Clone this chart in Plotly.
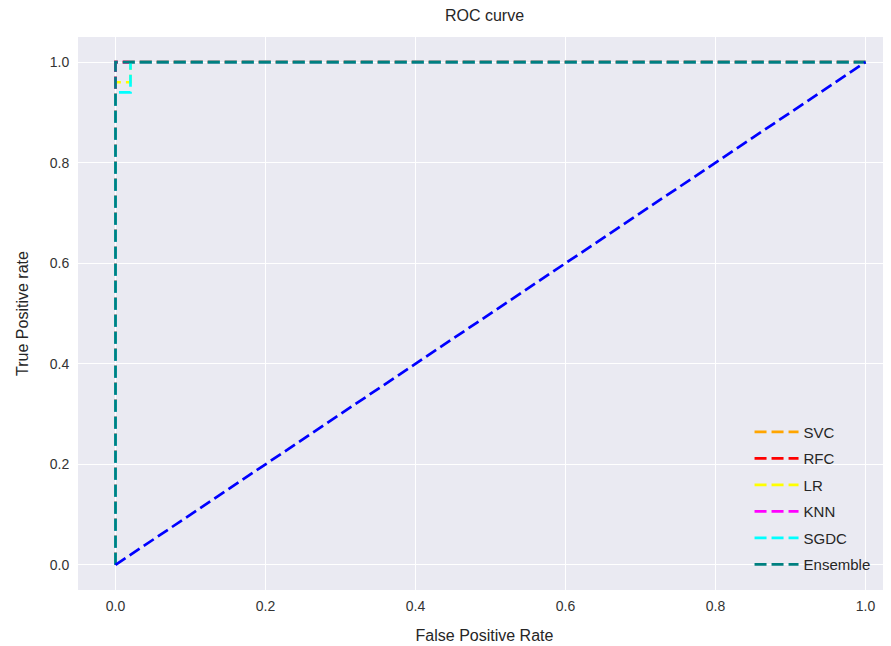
import plotly.graph_objects as go

# ROC curves (FPR, TPR)
svc_fpr = [0.0, 0.0, 1.0]
svc_tpr = [0.0, 1.0, 1.0]
rfc_fpr = [0.0, 0.0, 1.0]
rfc_tpr = [0.0, 1.0, 1.0]
lr_fpr = [0.0, 0.0, 0.02, 0.02, 1.0]
lr_tpr = [0.0, 0.96, 0.96, 1.0, 1.0]
knn_fpr = [0.0, 0.0, 1.0]
knn_tpr = [0.0, 1.0, 1.0]
sgdc_fpr = [0.0, 0.0, 0.02, 0.02, 1.0]
sgdc_tpr = [0.0, 0.94, 0.94, 1.0, 1.0]
ens_fpr = [0.0, 0.0, 1.0]
ens_tpr = [0.0, 1.0, 1.0]
diag = [0.0, 1.0]

series = [
    ("SVC", svc_fpr, svc_tpr, "#FFA500"),
    ("RFC", rfc_fpr, rfc_tpr, "#FF0000"),
    ("LR", lr_fpr, lr_tpr, "#FFFF00"),
    ("KNN", knn_fpr, knn_tpr, "#FF00FF"),
    ("SGDC", sgdc_fpr, sgdc_tpr, "#00FFFF"),
    ("Ensemble", ens_fpr, ens_tpr, "#008080"),
]

fig = go.Figure()
for name, x, y, c in series:
    fig.add_trace(go.Scatter(x=x, y=y, mode="lines", name=name, legendgroup=name,
                             line=dict(color=c, width=2.7, dash="12px,5px")))
fig.add_trace(go.Scatter(x=diag, y=diag, mode="lines", showlegend=False,
                         line=dict(color="#0000FF", width=2.7, dash="12px,5px")))

font = "Liberation Sans, Arial, sans-serif"
axis = dict(showgrid=True, gridcolor="white", gridwidth=1.3, zeroline=False,
            showline=False, ticks="outside", tickcolor="rgba(0,0,0,0)",
            tickformat=".1f", dtick=0.2, tick0=0, automargin=False,
            tickfont=dict(size=14, color="#333333", family=font))
fig.update_layout(
    width=883, height=638,
    paper_bgcolor="white", plot_bgcolor="#EAEAF2",
    margin=dict(l=70, r=0, t=29, b=56),
    title=dict(text="ROC curve", x=0.5, xanchor="center", xref="paper",
               y=1, yref="container", yanchor="top", pad=dict(t=2),
               font=dict(size=16, color="#262626", family=font)),
    xaxis=dict(axis, range=[-0.05, 1.034], ticklen=3,
               title=dict(text="False Positive Rate", font=dict(size=16, color="#262626", family=font), standoff=17)),
    yaxis=dict(axis, range=[-0.05, 1.05], ticklen=5,
               title=dict(text="True Positive rate", font=dict(size=16, color="#262626", family=font), standoff=17)),
    legend=dict(x=0.826, y=0.017, xanchor="left", yanchor="bottom", bgcolor="rgba(0,0,0,0)",
                font=dict(size=15, color="#262626", family=font), itemwidth=44,
                tracegroupgap=4),
    showlegend=True,
)
fig.write_html("out.html")
